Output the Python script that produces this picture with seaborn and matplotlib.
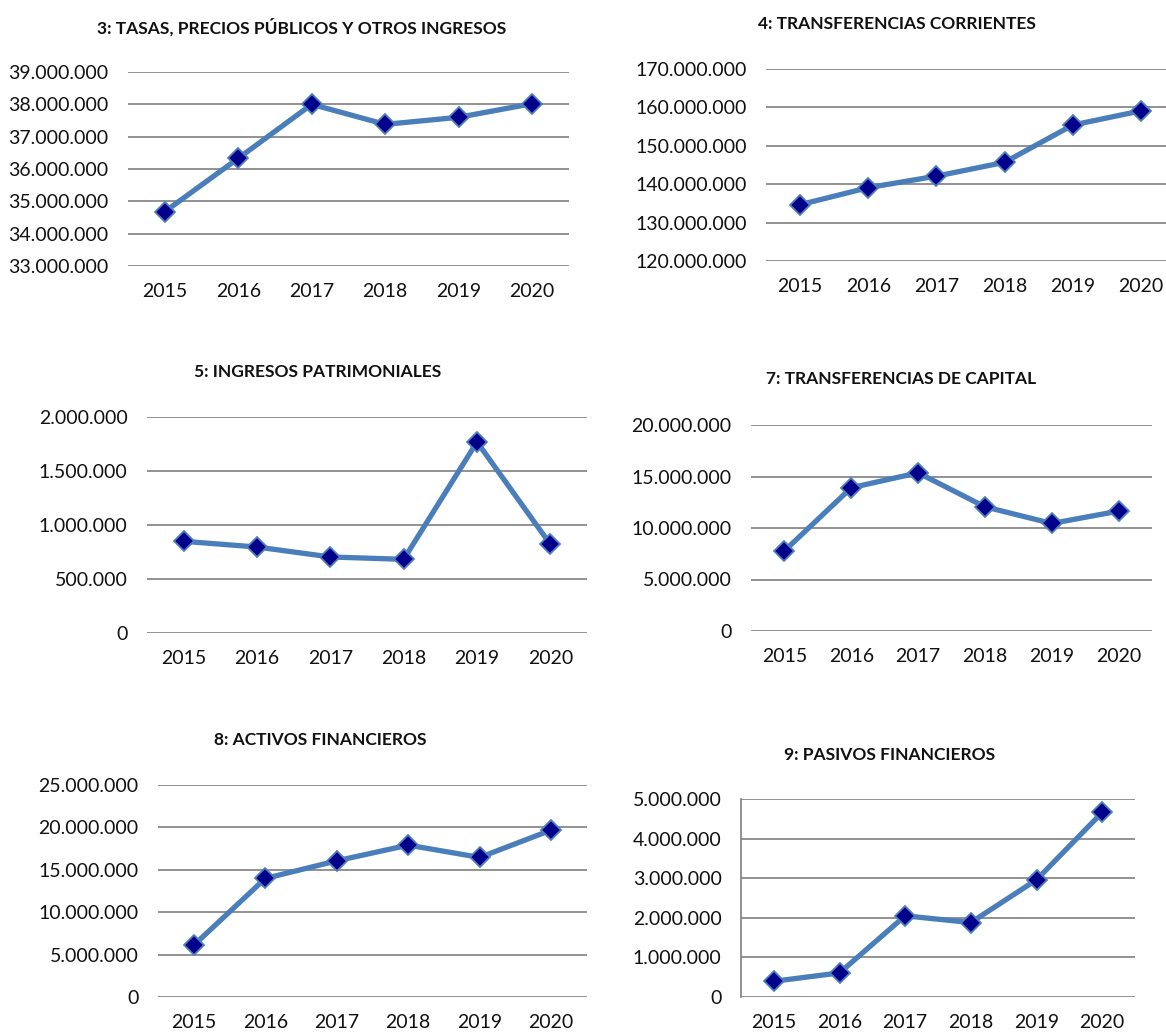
import matplotlib
matplotlib.use("Agg")
import seaborn as sns
import pandas as pd
from matplotlib import pyplot as plt
from matplotlib.ticker import FuncFormatter, MultipleLocator

years = ['2015', '2016', '2017', '2018', '2019', '2020']

tasas = [34680000, 36330000, 38000000, 37380000, 37600000, 38020000]
transf_corrientes = [134670000, 139100000, 142100000, 145700000, 155400000, 159100000]
patrimoniales = [849000, 796000, 704000, 682000, 1769000, 821000]
transf_capital = [7780000, 13910000, 15360000, 12060000, 10440000, 11640000]
activos = [6100000, 13980000, 16060000, 17910000, 16460000, 19690000]
pasivos = [397000, 608000, 2050000, 1880000, 2960000, 4660000]

titles = ['3: TASAS, PRECIOS PÚBLICOS Y OTROS INGRESOS',
          '4: TRANSFERENCIAS CORRIENTES',
          '5: INGRESOS PATRIMONIALES',
          '7: TRANSFERENCIAS DE CAPITAL',
          '8: ACTIVOS FINANCIEROS',
          '9: PASIVOS FINANCIEROS']

series = [tasas, transf_corrientes, patrimoniales, transf_capital, activos, pasivos]
y_ranges = [(33000000, 39000000, 1000000), (120000000, 170000000, 10000000),
            (0, 2000000, 500000), (0, 20000000, 5000000),
            (0, 25000000, 5000000), (0, 5000000, 1000000)]

W, H = 1166, 1032
# axes boxes in pixels: left, right, top, bottom
boxes = [(128, 569, 72, 266), (766, 1175, 69, 261),
         (147, 587, 417, 633), (751, 1152, 425, 631),
         (158, 587, 785, 997), (741, 1135, 799, 997)]
title_pos = [(302, 27), (897, 24), (318, 372), (901, 379), (320, 740), (890, 755)]

sns.set_style("white")
plt.rcParams['font.family'] = ['Lato', 'DejaVu Sans']

fig = plt.figure(figsize=(W / 100, H / 100), dpi=100)

fmt = FuncFormatter(lambda v, p: f"{int(round(v)):,}".replace(",", "."))

for i in range(6):
    l, r, t, b = boxes[i]
    ax = fig.add_axes([l / W, 1 - b / H, (r - l) / W, (b - t) / H])
    df = pd.DataFrame({'year': years, 'value': series[i]})
    sns.lineplot(data=df, x='year', y='value', ax=ax, color='#4A7EBB', linewidth=3.8,
                 marker='D', markersize=10, markerfacecolor='#00008B',
                 markeredgecolor='#4F81BD', markeredgewidth=1.3, zorder=3)
    for ln in ax.lines:
        ln.set_clip_on(False)
    lo, hi, step = y_ranges[i]
    ax.set_ylim(lo, hi)
    ax.set_xlim(-0.5, 5.5)
    ax.yaxis.set_major_locator(MultipleLocator(step))
    ax.yaxis.set_major_formatter(fmt)
    ax.grid(axis='y', color='#7f7f7f', linewidth=1.2)
    ax.set_axisbelow(True)
    for s in ['top', 'right', 'bottom', 'left']:
        ax.spines[s].set_visible(False)
    if i == 5:
        ax.spines['left'].set_visible(True)
        ax.spines['left'].set_color('#7f7f7f')
        ax.spines['left'].set_linewidth(1.2)
    ax.tick_params(axis='y', length=0, pad=14, labelsize=14, labelcolor='#111111')
    ax.tick_params(axis='x', length=0, pad=12, labelsize=14, labelcolor='#111111')
    ax.set_xlabel('')
    ax.set_ylabel('')
    tx, ty = title_pos[i]
    fig.text(tx / W, 1 - ty / H, titles[i], ha='center', va='center',
             fontsize=12.5, fontweight='bold', color='#111111')

fig.savefig('out.png', dpi=100)
